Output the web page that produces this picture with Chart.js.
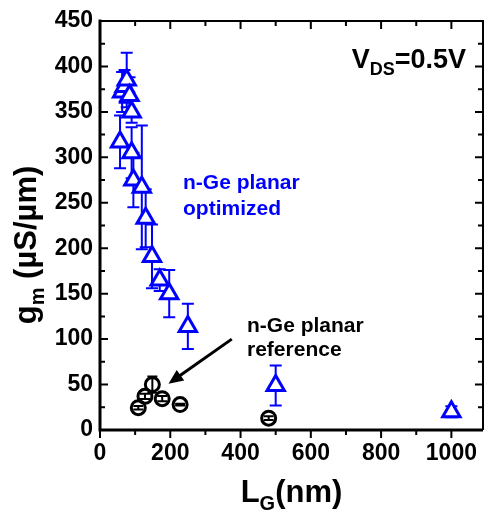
<!DOCTYPE html>
<html>
<head>
<meta charset="utf-8">
<script src="https://cdn.jsdelivr.net/npm/chart.js@4/dist/chart.umd.min.js"></script>
<style>
  html, body { margin: 0; padding: 0; background: #fff; }
  canvas { display: block; }
</style>
</head>
<body>
<canvas id="c" width="485" height="514"></canvas>
<script>
// n-Ge planar, optimized process: gate length (nm), gm (uS/um), error
const optLength = [57, 63, 70, 76, 84, 90, 90, 95, 119, 130, 148, 170, 197, 250, 500, 1000];
const optGm     = [317, 372, 378, 385, 368, 350, 305, 275, 267, 233, 191, 165, 150, 114, 49, 20];
const optErr    = [29, 22, 18, 30, 20, 12, 28, 30, 68, 32, 35, 12, 26, 25, 22, 6];

// n-Ge planar, reference process
const refLength = [109, 128, 149, 177, 228, 480];
const refGm     = [24.5, 37, 50, 34.5, 28, 13];
const refErr    = [2, 3, 9, 3, 1, 2];

const xTickValues = [0, 200, 400, 600, 800, 1000];
const yTickValues = [0, 50, 100, 150, 200, 250, 300, 350, 400, 450];

const X_MAX = 1090;
const Y_MAX = 450;
const FONT = '"Liberation Sans", Arial, Helvetica, sans-serif';
const BLUE = '#0000ff';

Chart.defaults.font.family = FONT;

function toPoints(xs, ys) {
  return xs.map((x, i) => ({ x: x, y: ys[i] }));
}

// vertical error bars with caps, drawn under the markers
const errorBars = {
  id: 'errorBars',
  beforeDatasetsDraw(chart) {
    const ctx = chart.ctx;
    const xs = chart.scales.x, ys = chart.scales.y;
    chart.data.datasets.forEach((ds) => {
      if (!ds.errors) return;
      ctx.save();
      ctx.strokeStyle = ds.borderColor;
      ctx.lineWidth = ds.errWidth;
      ds.data.forEach((p, i) => {
        const e = ds.errors[i];
        const px = xs.getPixelForValue(p.x);
        const top = ys.getPixelForValue(p.y + e);
        const bot = ys.getPixelForValue(p.y - e);
        const cap = ds.capHalf;
        ctx.beginPath();
        ctx.moveTo(px, top); ctx.lineTo(px, bot);
        ctx.moveTo(px - cap, top); ctx.lineTo(px + cap, top);
        ctx.moveTo(px - cap, bot); ctx.lineTo(px + cap, bot);
        ctx.stroke();
      });
      ctx.restore();
    });
  }
};

// text run with subscripts: parts = [[text, isSub], ...]
function runWidth(ctx, parts, size, subSize) {
  let w = 0;
  parts.forEach(([t, sub]) => {
    ctx.font = 'bold ' + (sub ? subSize : size) + 'px ' + FONT;
    w += ctx.measureText(t).width;
  });
  return w;
}
function drawRun(ctx, parts, x, y, size, subSize, subDrop) {
  parts.forEach(([t, sub]) => {
    ctx.font = 'bold ' + (sub ? subSize : size) + 'px ' + FONT;
    ctx.fillText(t, x, sub ? y + subDrop : y);
    x += ctx.measureText(t).width;
  });
}

// frame, tick marks, titles, labels and the arrow
const decorations = {
  id: 'decorations',
  afterDraw(chart) {
    const ctx = chart.ctx;
    const a = chart.chartArea;
    const xs = chart.scales.x, ys = chart.scales.y;
    ctx.save();
    ctx.strokeStyle = '#000';
    ctx.lineCap = 'butt';

    // tick marks
    ctx.lineWidth = 2;
    ctx.beginPath();
    for (let v = 0; v <= 1000; v += 100) {
      const px = xs.getPixelForValue(v);
      const len = (v % 200 === 0) ? 8 : 5;
      ctx.moveTo(px, a.bottom); ctx.lineTo(px, a.bottom + len);
      ctx.moveTo(px, a.top); ctx.lineTo(px, a.top + len);
    }
    for (let v = 0; v <= Y_MAX; v += 25) {
      const py = ys.getPixelForValue(v);
      const len = (v % 50 === 0) ? 8 : 5;
      ctx.moveTo(a.left, py); ctx.lineTo(a.left + len, py);
      ctx.moveTo(a.right, py); ctx.lineTo(a.right - len, py);
    }
    ctx.stroke();

    // frame
    ctx.lineWidth = 3;
    ctx.beginPath();
    ctx.moveTo(a.left, a.top - 1.5); ctx.lineTo(a.left, a.bottom);
    ctx.lineTo(a.right, a.bottom);
    ctx.stroke();
    ctx.lineWidth = 2;
    ctx.beginPath();
    ctx.moveTo(a.left, a.top); ctx.lineTo(a.right, a.top);
    ctx.lineTo(a.right, a.bottom);
    ctx.stroke();

    // arrow pointing at the reference data
    const x0 = xs.getPixelForValue(375), y0 = ys.getPixelForValue(100);
    const x1 = xs.getPixelForValue(195), y1 = ys.getPixelForValue(51);
    const ang = Math.atan2(y1 - y0, x1 - x0);
    const head = 16, spread = 0.42;
    ctx.lineWidth = 3;
    ctx.beginPath();
    ctx.moveTo(x0, y0);
    ctx.lineTo(x1 - Math.cos(ang) * head * 0.8, y1 - Math.sin(ang) * head * 0.8);
    ctx.stroke();
    ctx.fillStyle = '#000';
    ctx.beginPath();
    ctx.moveTo(x1, y1);
    ctx.lineTo(x1 - head * Math.cos(ang - spread), y1 - head * Math.sin(ang - spread));
    ctx.lineTo(x1 - head * Math.cos(ang + spread), y1 - head * Math.sin(ang + spread));
    ctx.closePath();
    ctx.fill();

    // annotations
    ctx.textBaseline = 'alphabetic';
    ctx.textAlign = 'left';
    ctx.fillStyle = BLUE;
    ctx.font = 'bold 21px ' + FONT;
    ctx.fillText('n-Ge planar', 183, 189);
    ctx.fillText('optimized', 183, 215);
    ctx.fillStyle = '#000';
    ctx.fillText('n-Ge planar', 247, 332);
    ctx.fillText('reference', 247, 356);

    // bias condition
    const vds = [['V', false], ['DS', true], ['=0.5V', false]];
    const vw = runWidth(ctx, vds, 27, 18);
    drawRun(ctx, vds, 466 - vw, 68, 27, 18, 7);

    // x-axis title
    const xt = [['L', false], ['G', true], ['(nm)', false]];
    const xw = runWidth(ctx, xt, 31, 20);
    drawRun(ctx, xt, (a.left + a.right) / 2 - xw / 2, 502, 31, 20, 8);

    // y-axis title (rotated)
    const yt = [['g', false], ['m', true], [' (\u00b5S/\u00b5m)', false]];
    const yw = runWidth(ctx, yt, 31, 20);
    ctx.translate(36, 245);
    ctx.rotate(-Math.PI / 2);
    drawRun(ctx, yt, -yw / 2, 0, 31, 20, 8);
    ctx.restore();
  }
};

new Chart(document.getElementById('c'), {
  type: 'scatter',
  data: {
    datasets: [
      {
        label: 'n-Ge planar optimized',
        data: toPoints(optLength, optGm),
        errors: optErr,
        errWidth: 2,
        capHalf: 6,
        pointStyle: 'triangle',
        radius: 10,
        borderWidth: 3,
        borderColor: BLUE,
        backgroundColor: '#ffffff'
      },
      {
        label: 'n-Ge planar reference',
        data: toPoints(refLength, refGm),
        errors: refErr,
        errWidth: 2,
        capHalf: 5,
        pointStyle: 'circle',
        radius: 7,
        borderWidth: 3,
        borderColor: '#000000',
        backgroundColor: 'rgba(0,0,0,0)'
      }
    ]
  },
  options: {
    responsive: false,
    animation: false,
    events: [],
    layout: { autoPadding: false, padding: { top: 21, right: 2, left: 0, bottom: 0 } },
    plugins: { legend: { display: false }, tooltip: { enabled: false } },
    scales: {
      x: {
        type: 'linear',
        min: 0,
        max: X_MAX,
        grid: { display: false, drawTicks: false },
        border: { display: false },
        afterFit(scale) {
          scale.height = 84;
          scale.paddingLeft = 0;
          scale.paddingRight = 0;
        },
        afterBuildTicks(scale) { scale.ticks = xTickValues.map(v => ({ value: v })); },
        ticks: {
          padding: 10,
          color: '#000',
          font: { size: 23, weight: 'bold' },
          maxRotation: 0,
          autoSkip: false,
          callback: (v) => String(v)
        }
      },
      y: {
        type: 'linear',
        min: 0,
        max: Y_MAX,
        grid: { display: false, drawTicks: false },
        border: { display: false },
        afterFit(scale) { scale.width = 100; },
        afterBuildTicks(scale) { scale.ticks = yTickValues.map(v => ({ value: v })); },
        ticks: {
          padding: 7,
          color: '#000',
          font: { size: 23, weight: 'bold' },
          autoSkip: false,
          callback: (v) => String(v)
        }
      }
    }
  },
  plugins: [errorBars, decorations]
});
</script>
</body>
</html>
